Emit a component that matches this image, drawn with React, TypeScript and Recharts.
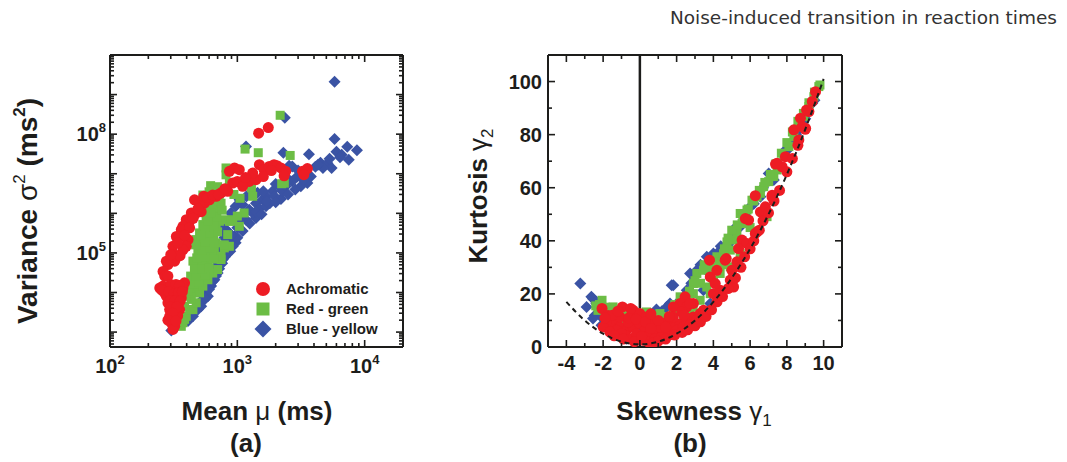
import React from "react";
import { ScatterChart, Scatter, XAxis, YAxis, ReferenceLine, Legend } from "recharts";

const INK = "#1d1d1b";
const RED = "#ed1c24";
const GREEN = "#6cbd45";
const BLUE = "#3a53a4";
const FONT = "'Liberation Sans', Arial, Helvetica, sans-serif";

// (a) mean reaction time (ms) vs variance (ms^2), [mean, variance]
const achromaticMV = [
  [1470, 1.06e8], [1750, 1.47e8],
  [866, 1.15e7], [950, 1.4e7], [1036, 1.27e7], [1490, 1.7e7], [1620, 1.27e7], [1780, 1.53e7], [1940, 1.7e7],
  [2050, 1.6e7], [2200, 1.4e7], [2400, 1.15e7], [2330, 8.9e6], [3250, 1.15e7], [3550, 1.35e7], [3330, 9.5e6],
  [920, 5.8e6], [1000, 6.4e6], [1130, 5.8e6], [1240, 6.4e6], [1400, 7.1e6], [1320, 1.04e7], [1100, 4.8e6],
  [840, 3.6e6], [745, 3.3e6], [681, 2.7e6], [604, 2.2e6], [552, 1.8e6], [505, 1.6e6], [461, 2.2e6], [545, 2.7e6],
  [435, 1.02e6], [475, 1.02e6], [520, 1.1e6], [397, 6.9e5], [422, 6.3e5], [410, 5.2e5], [374, 4.7e5], [363, 3.9e5],
  [422, 4.3e5], [332, 2.6e5], [342, 2.2e5], [410, 2.17e5], [312, 1.47e5], [397, 1.47e5], [374, 1.2e5], [322, 9.1e4],
  [294, 6.8e4], [322, 6.2e4], [285, 5.1e4], [277, 6.2e4], [261, 3.4e4], [269, 2.6e4], [285, 2.6e4],
  [246, 1.3e4], [261, 1.45e4], [277, 1.2e4], [294, 1.3e4], [312, 1.2e4], [332, 1.3e4], [352, 1.2e4], [374, 1.3e4],
  [385, 1.76e4], [269, 9.8e3], [277, 8.1e3], [303, 7.4e3], [332, 8.1e3], [363, 7.4e3], [285, 5.5e3], [312, 5e3],
  [342, 5.5e3], [294, 3.7e3], [322, 3.4e3], [352, 3.7e3], [294, 2.5e3], [322, 2.3e3], [340, 2.6e3], [303, 1.7e3],
  [322, 1.4e3], [312, 1.17e3],
  [300, 1.6e4], [330, 1.6e4], [350, 1.5e4], [255, 1.15e4], [290, 1.05e4], [320, 9.5e3], [345, 1e4], [370, 1.05e4],
  [300, 6.3e3], [325, 6.3e3], [355, 6e3], [300, 4.3e3], [335, 4.3e3], [310, 3e3], [285, 2e3], [330, 1.9e3],
  [355, 8.5e4], [300, 9e4], [340, 1.8e5], [385, 2.8e5], [450, 7.5e5], [490, 1.3e6], [580, 2.5e6], [640, 2.9e6],
  [710, 3e6], [800, 4.2e6], [1160, 8e6], [1600, 8.5e6], [1850, 1.2e7],
];
const redGreenMV = [
  [2170, 3e8], [1150, 4.2e7], [1460, 3.4e7], [2600, 2.9e7], [815, 1.4e7], [815, 9.4e6], [2230, 5.6e6], [2340, 5.8e6],
  [617, 5e6], [700, 4.7e6], [866, 5.8e6], [1290, 4.4e6], [552, 2.7e6], [1050, 2.4e6], [536, 2.9e6],
  [374, 1.72e3], [363, 1.4e3], [385, 2.1e3], [397, 2.5e3], [422, 3.7e3], [448, 3.7e3], [385, 4.5e3], [475, 5.5e3],
  [435, 6.7e3], [397, 8e3], [462, 9.8e3], [505, 9.8e3], [422, 1.3e4], [490, 1.45e4], [536, 1.45e4], [448, 2.1e4],
  [520, 2.35e4], [587, 2.1e4], [475, 3.1e4], [552, 3.4e4], [641, 3.1e4], [700, 3.8e4], [505, 4.6e4], [587, 5e4],
  [448, 6.2e4], [536, 6.8e4], [622, 7.5e4], [745, 6.8e4], [490, 1e5], [569, 1e5], [660, 1.1e5], [520, 1.47e5],
  [604, 1.6e5], [681, 1.8e5], [790, 1.34e5], [866, 1.47e5], [475, 2.17e5], [552, 2.4e5], [641, 2.6e5], [840, 2.9e5],
  [505, 3.2e5], [587, 3.9e5], [681, 4.3e5], [536, 5.2e5], [622, 5.7e5], [723, 6.3e5], [790, 6.9e5], [866, 6.3e5],
  [920, 6.9e5], [1036, 4.7e5], [569, 8.4e5], [660, 9.3e5], [1130, 1.02e6], [604, 1.2e6], [700, 1.5e6], [641, 1.65e6],
  [745, 1.8e6], [1320, 2.7e6], [890, 6.3e5], [790, 1.6e5], [745, 8.2e4],
  [410, 1.1e4], [455, 1.6e4], [500, 1.8e4], [430, 2.6e4], [470, 2.6e4], [560, 2.7e4], [460, 4e4], [530, 4e4],
  [600, 4.2e4], [480, 7.5e4], [560, 8e4], [650, 7e4], [530, 1.2e5], [610, 1.3e5], [470, 1.6e5], [560, 1.9e5],
  [650, 2.1e5], [520, 2.8e5], [610, 3.2e5], [700, 3.4e5], [560, 4.5e5], [650, 5e5], [590, 6.5e5], [690, 8e5],
  [620, 1e6], [560, 1.4e6], [760, 1.2e6], [720, 2.1e6], [600, 3.5e6], [780, 4e6], [940, 3e6], [1000, 8.5e5],
];
const blueYellowMV = [
  [5800, 2.1e9], [2360, 2.6e8], [1170, 4.9e7], [5800, 7.6e7], [2300, 3.4e7], [3650, 3.1e7], [4500, 1.9e7],
  [5100, 1.85e7], [6000, 3.6e7], [7300, 4.8e7], [8700, 3.9e7], [6600, 3e7], [7500, 2.25e7], [5500, 1.4e7],
  [4700, 1.4e7], [4100, 1.5e7], [2700, 1.53e7], [2550, 1.6e7], [2950, 8.5e6], [3550, 5.8e6], [3780, 8.5e6],
  [2550, 7e6], [2130, 4.8e6], [1890, 3.6e6], [2200, 2.3e6], [1800, 1.8e6], [1580, 2.2e6], [1400, 1.8e6],
  [1680, 2.7e6], [1400, 7.6e5], [1240, 1.24e6], [1100, 1.65e6], [1036, 6.3e5], [970, 1.5e6], [890, 1.02e6],
  [950, 2.6e5], [866, 2.17e5], [970, 1.8e5], [815, 3.9e5], [745, 5.2e5], [790, 2.4e5], [723, 1e5], [681, 4.6e4],
  [641, 3.1e4], [622, 1.45e4], [569, 9.8e3], [536, 6.7e3], [490, 3.7e3], [448, 2.5e3], [410, 1.9e3], [352, 1.6e3],
  [303, 1.1e3], [505, 5.5e3], [587, 8.1e3], [660, 2.1e4], [700, 3.1e4], [768, 6.8e4], [840, 1e5], [920, 1.47e5],
  [866, 3.2e5], [1000, 4.3e5], [1170, 6.9e5], [1320, 1.02e6], [1490, 1.3e6], [1680, 1.5e6], [1960, 2.7e6],
  [2260, 3.6e6], [2400, 4.8e6], [2700, 6.5e6], [3150, 4.8e6], [1440, 3.3e6], [1180, 2.7e6], [1040, 2.2e6],
  [520, 4.5e3], [560, 7e3], [600, 1.2e4], [640, 1.9e4], [680, 2.6e4], [720, 4e4], [760, 5.5e4], [800, 8e4],
  [880, 1.1e5], [760, 1.3e5], [1000, 2.4e5], [900, 2.8e5], [1100, 3.6e5], [780, 3.2e5], [1250, 5.5e5], [1100, 8.8e5],
  [1400, 1.1e6], [1550, 9.5e5], [1700, 2e6], [2000, 1.9e6], [2500, 3e6], [2850, 4e6], [3300, 7e6], [4300, 1.7e7],
  [1280, 3e6], [1600, 3.6e6], [2000, 5.5e6], [5300, 2.4e7], [6400, 2.6e7], [3000, 1.2e7],
];

// (b) skewness vs kurtosis, [skewness, kurtosis]
const achromaticSK = [
  [-2.06, 14.5], [-0.95, 15.1], [-0.36, 13.8], [-1.73, 11.9], [-1.46, 8.8], [-1.09, 7.5], [-0.73, 6.3], [-0.36, 7.5],
  [0, 8.8], [0.27, 6.3], [0.55, 5], [0.91, 5.7], [1.28, 5], [1.64, 6.3], [1.82, 8.2], [2.19, 8.8], [2.46, 18.9],
  [2.19, 16.4], [1.82, 15.1], [2.55, 15.1], [2.91, 16.4], [2.91, 11.3], [2.64, 9.4], [3.28, 12.6], [3.83, 26.4],
  [3.79, 32.7], [4.19, 28.9], [4, 20.1], [4.37, 21.4], [4.7, 33.3], [4.92, 25.2], [5.01, 28.9], [5.28, 32.1],
  [5.1, 22.6], [5.56, 40.3], [5.74, 48.4], [5.92, 47.8], [5.83, 39], [6.28, 42.8], [6.28, 57], [6.56, 50.9],
  [6.83, 52.8], [7.19, 56.6], [7.38, 68.9], [7.74, 67.9], [7.92, 71.7], [8.38, 81.8], [8.65, 78], [8.74, 86.2],
  [9.02, 82.4], [9.2, 88.7], [9.38, 92.5], [9.56, 96.2], [9.07, 89.3], [-1.82, 9.4], [-1.28, 6.3], [-0.82, 4.4],
  [-0.46, 3.1], [-0.18, 5], [0.18, 2.5], [0.46, 1.9], [0.82, 3.1], [1.18, 3.8], [1.55, 4.4], [2, 6.3], [2.37, 7.5],
  [2.73, 8.2], [3.1, 10.1], [3.46, 13.8], [-2, 7.5], [-1.64, 5.7], [-1, 5], [-0.64, 9.4], [-1.09, 11.3], [0, 12.6],
  [0.36, 11.3], [0.73, 8.8], [1.09, 7.5], [1.46, 9.4], [1.82, 11.3], [2.28, 13.2], [2.73, 16.4], [7.47, 69.2],
  [7.2, 57.2], [6.38, 43.4], [5.37, 37.1], [4.64, 32.7], [4.1, 23.9], [8.83, 83],
  [-1.5, 12], [-1.2, 13.5], [-0.6, 11], [-0.2, 10.5], [0.3, 9.5], [0.6, 7], [1, 10], [1.4, 7.5], [-1.9, 11],
  [-1.4, 4.2], [-0.9, 3], [-0.3, 2], [0.1, 4], [0.7, 1.5], [1, 2.2], [1.4, 3], [1.9, 4.5], [2.3, 5.5], [2.6, 6.5],
  [3, 8], [3.3, 9.5], [3.6, 11.5], [3.9, 14], [4.2, 17], [4.5, 19], [4.8, 22], [5.2, 26], [5.5, 30], [5.7, 34],
  [6, 37], [6.2, 40], [6.5, 44], [6.7, 47.5], [7, 50.5], [7.3, 55], [7.6, 59], [8, 66], [8.3, 71], [8.6, 76],
  [9, 82], [-0.5, 14.5], [0.6, 12.5], [1.6, 11.5], [2.4, 12],
];
const redGreenSK = [
  [-2.06, 17.6], [-2.28, 13.8], [-1.82, 13.2], [-1.46, 15.1], [-0.73, 12.6], [0.36, 13.2], [1.09, 12.6], [1.82, 13.2],
  [2.19, 18.9], [2.91, 23.9], [3.1, 27.7], [3.46, 28.9], [2.91, 20.1], [3.64, 22.6], [4, 25.2], [4.19, 34],
  [4.55, 35.2], [4.74, 39.6], [4.92, 36.5], [5.1, 40.3], [5.28, 42.8], [5.56, 46.5], [5.46, 50.3], [5.83, 51.6],
  [6.1, 55.3], [6.38, 56.6], [6.56, 57.9], [6.74, 60.4], [7.01, 62.3], [7.29, 64.2], [6.92, 49.1], [7.47, 66.7],
  [7.83, 71.7], [8.11, 75.5], [8.38, 79.2], [8.65, 83], [8.93, 86.8], [9.2, 90.6], [9.47, 94.3], [9.74, 98.1],
  [9.8, 98.7], [0.73, 6.3], [-0.36, 8.8], [-1.09, 8.8], [2.37, 10.1], [2.73, 12.6], [3.28, 17.6], [3.83, 20.1],
  [4.37, 27.7], [4.92, 30.2], [5.46, 35.2], [-1.5, 10.5], [1.2, 9.5], [0.1, 10], [2.9, 15], [4.6, 31], [6, 45],
  [-2.2, 16], [-1.9, 15], [-1.2, 12], [-0.9, 13], [-0.2, 13], [0.6, 11], [1.4, 11.5], [2.5, 16], [2.7, 21], [3, 25],
  [3.3, 24], [3.5, 31], [3.9, 30], [4.1, 29.5], [4.3, 32], [4.6, 37], [4.8, 41], [5, 44], [5.3, 46], [5.6, 48.5],
  [5.9, 52], [6.2, 55], [6.5, 59], [6.8, 62], [7.1, 65], [7.4, 69], [7.7, 73], [8, 77], [8.3, 81], [8.6, 85],
  [8.9, 88], [9.2, 92], [9.5, 96], [1.9, 16], [2.2, 14], [0, 11.5], [-1.6, 12.5], [-2.4, 15.5],
];
const blueYellowSK = [
  [-3.24, 23.9], [-2.55, 18.2], [-2.9, 15.1], [-2.46, 11.9], [1.73, 23.3], [0.9, 14.1], [1.46, 15.1], [2.19, 17.6],
  [2.73, 27.7], [3.1, 28.9], [3.64, 34], [4, 35.2], [4.28, 35.8], [4.55, 31.4], [5.1, 42.8], [5.46, 45.3],
  [6.01, 52.8], [6.56, 56.6], [7.01, 65.4], [7.29, 62.9], [7.83, 73.6], [8.2, 76.7], [8.65, 81.8], [9.11, 88.7],
  [9.38, 91.8], [-2.37, 16.4], [-2.1, 11.3], [-1.82, 7.5], [-1.46, 5], [-0.73, 3.1], [0, 6.3], [0.73, 11.3],
  [1.82, 7.5], [1.09, 6.3], [2.55, 21.4], [3.46, 21.4], [3.83, 16.4], [-2.64, 18.9], [-2.37, 17], [-2.55, 10.7],
  [-2.09, 8.2], [1.82, 23.3], [1.64, 16.4],
  [-2.2, 14], [-1.7, 13], [-1.2, 10], [-0.5, 11.5], [0.3, 12], [0.4, 4], [1.2, 13.5], [2.5, 19.5], [2.8, 24],
  [3.3, 31], [3.6, 29], [3.9, 33], [4.4, 38], [4.8, 38.5], [5.2, 45], [5.7, 50], [6.2, 54], [6.7, 60], [7.5, 68],
  [8, 74], [8.5, 80], [9, 86], [9.5, 93],
];

// dashed lower bound in (b)
const boundSkew = [-4, -3, -2, -1, 0, 1, 2, 3, 4, 5, 6, 7, 8, 9, 10];
const boundKurt = [17, 10, 5, 2, 1, 2, 5, 10, 17, 26, 37, 50, 65, 82, 101];

const seriesNames = ["Achromatic", "Red - green", "Blue - yellow"];

const pts = (a: number[][]) => a.map(([x, y]) => ({ x, y }));
const boundPts = boundSkew.map((x, i) => ({ x, y: boundKurt[i] }));

const logTicks = (lo: number, hi: number) => {
  const out: number[] = [];
  for (let e = Math.floor(Math.log10(lo)); e <= Math.ceil(Math.log10(hi)); e++)
    for (let m = 1; m <= 9; m++) {
      const v = m * 10 ** e;
      if (v > lo && v < hi) out.push(v);
    }
  return out;
};
const MEAN_DOMAIN: [number, number] = [100, 20000];
const VAR_DOMAIN: [number, number] = [420, 1e10];
const meanTicks = [100, ...logTicks(100, 20000)];
const varTicks = logTicks(420, 1e10);
const skewTicks = [-4, -3, -2, -1, 0, 1, 2, 3, 4, 5, 6, 7, 8, 9, 10];
const kurtTicks = [0, 10, 20, 30, 40, 50, 60, 70, 80, 90, 100];

const isPow10 = (v: number) => Math.abs(Math.log10(v) - Math.round(Math.log10(v))) < 1e-6;

type Side = "bottom" | "top" | "left" | "right";
const INWARD: Record<Side, [number, number]> = { bottom: [0, -1], top: [0, 1], left: [1, 0], right: [-1, 0] };

const frameTick =
  (side: Side, isMajor: (v: number) => boolean, label?: (v: number, x: number, y: number) => React.ReactNode) =>
  (props: any) => {
    const { x, y, payload } = props;
    const v = payload.value;
    const major = isMajor(v);
    const [dx, dy] = INWARD[side];
    const len = major ? 7 : 4;
    return (
      <g>
        <line x1={x} y1={y} x2={x + dx * len} y2={y + dy * len} stroke={INK} strokeWidth={1.6} />
        {major && label ? label(v, x, y) : null}
      </g>
    );
  };

const tickText = { fontSize: 20, fontWeight: 700, fontFamily: FONT, fill: INK };

const powLabelBottom = (v: number, x: number, y: number) => (
  <text x={x} y={y + 26} textAnchor="middle" {...tickText}>
    10<tspan dy={-9} fontSize={13}>{Math.round(Math.log10(v))}</tspan>
  </text>
);
const powLabelLeft = (v: number, x: number, y: number) => {
  const e = Math.round(Math.log10(v));
  if (e !== 5 && e !== 8) return null;
  return (
    <text x={x - 4} y={y + 7} textAnchor="end" {...tickText}>
      10<tspan dy={-9} fontSize={13}>{e}</tspan>
    </text>
  );
};
const numLabelBottom = (v: number, x: number, y: number) => (
  <text x={x} y={y + 23} textAnchor="middle" {...tickText}>{v}</text>
);
const numLabelLeft = (v: number, x: number, y: number) => (
  <text x={x - 6} y={y + 7} textAnchor="end" {...tickText}>{v}</text>
);

const Circle = (r: number) => (p: any) => <circle cx={p.cx} cy={p.cy} r={r} fill={RED} />;
const Square = (s: number) => (p: any) => <rect x={p.cx - s / 2} y={p.cy - s / 2} width={s} height={s} fill={GREEN} />;
const Diamond = (h: number) => (p: any) => (
  <path d={`M${p.cx},${p.cy - h}L${p.cx + h},${p.cy}L${p.cx},${p.cy + h}L${p.cx - h},${p.cy}Z`} fill={BLUE} />
);
const Nothing = () => <g />;

const AXIS = { stroke: INK, strokeWidth: 2 };
// axes get a 1px size: Recharts skips drawing an axis whose width/height is 0
const axisCommon = {
  type: "number" as const,
  allowDataOverflow: true,
  interval: 0 as const,
  tickSize: 0,
  tickMargin: 0,
  tickLine: false,
  axisLine: AXIS,
};

const LegendBox = () => {
  const markers = [Circle(7), Square(13), Diamond(8.5)];
  return (
    <svg width={150} height={64} style={{ display: "block" }}>
      {seriesNames.map((n, i) => (
        <g key={n}>
          {markers[i]({ cx: 11, cy: 10 + i * 20 })}
          <text x={34} y={15 + i * 20} fontSize={15} fontWeight={700} fontFamily={FONT} fill={INK}>
            {n}
          </text>
        </g>
      ))}
    </svg>
  );
};

const PanelA = () => (
  <ScatterChart width={420} height={462} margin={{ top: 54, right: 16, bottom: 114, left: 109 }}>
    <XAxis {...axisCommon} xAxisId="b" dataKey="x" scale="log" domain={MEAN_DOMAIN} ticks={meanTicks} height={1}
      tick={frameTick("bottom", isPow10, powLabelBottom)} />
    <XAxis {...axisCommon} xAxisId="t" orientation="top" dataKey="x" scale="log" domain={MEAN_DOMAIN} ticks={meanTicks}
      height={1} tick={frameTick("top", isPow10)} />
    <YAxis {...axisCommon} yAxisId="l" dataKey="y" scale="log" domain={VAR_DOMAIN} ticks={varTicks} width={1}
      tick={frameTick("left", isPow10, powLabelLeft)} />
    <YAxis {...axisCommon} yAxisId="r" orientation="right" dataKey="y" scale="log" domain={VAR_DOMAIN} ticks={varTicks}
      width={1} tick={frameTick("right", isPow10)} />
    <Scatter xAxisId="b" yAxisId="l" name={seriesNames[2]} data={pts(blueYellowMV)} shape={Diamond(6)} isAnimationActive={false} />
    <Scatter xAxisId="b" yAxisId="l" name={seriesNames[1]} data={pts(redGreenMV)} shape={Square(9)} isAnimationActive={false} />
    <Scatter xAxisId="b" yAxisId="l" name={seriesNames[0]} data={pts(achromaticMV)} shape={Circle(5.5)} isAnimationActive={false} />
    <Legend content={() => <LegendBox />} layout="vertical" align="center" verticalAlign="middle"
      wrapperStyle={{ left: 252, top: 279, width: 150, height: 64 }} />
  </ScatterChart>
);

const PanelB = () => (
  <ScatterChart width={437} height={462} margin={{ top: 54, right: 24, bottom: 114, left: 117 }}>
    <XAxis {...axisCommon} xAxisId="b" dataKey="x" domain={[-5, 11]} ticks={skewTicks} height={1}
      tick={frameTick("bottom", (v) => v % 2 === 0, numLabelBottom)} />
    <XAxis {...axisCommon} xAxisId="t" orientation="top" dataKey="x" domain={[-5, 11]} ticks={skewTicks} height={1}
      tick={frameTick("top", (v) => v % 2 === 0)} />
    <YAxis {...axisCommon} yAxisId="l" dataKey="y" domain={[0, 110]} ticks={kurtTicks} width={1}
      tick={frameTick("left", (v) => v % 20 === 0, numLabelLeft)} />
    <YAxis {...axisCommon} yAxisId="r" orientation="right" dataKey="y" domain={[0, 110]} ticks={kurtTicks} width={1}
      tick={frameTick("right", (v) => v % 20 === 0)} />
    <ReferenceLine xAxisId="b" yAxisId="l" x={0} stroke={INK} strokeWidth={2.5} />
    <Scatter xAxisId="b" yAxisId="l" data={pts(blueYellowSK)} shape={Diamond(6)} isAnimationActive={false} />
    <Scatter xAxisId="b" yAxisId="l" data={pts(redGreenSK)} shape={Square(9)} isAnimationActive={false} />
    <Scatter xAxisId="b" yAxisId="l" data={pts(achromaticSK)} shape={Circle(5.5)} isAnimationActive={false} />
    <Scatter xAxisId="b" yAxisId="l" data={boundPts} shape={Nothing} lineJointType="monotoneX"
      line={{ stroke: INK, strokeWidth: 2, strokeDasharray: "5 4" }} isAnimationActive={false} />
  </ScatterChart>
);

const title = { fontFamily: FONT, fontWeight: 700, fill: INK };

export default function App() {
  return (
    <div style={{ position: "absolute", left: 0, top: 0, width: 1067, height: 462, background: "#fff" }}>
      <div style={{ position: "absolute", left: 0, top: 0 }}>
        <PanelA />
      </div>
      <div style={{ position: "absolute", left: 430, top: 0 }}>
        <PanelB />
      </div>
      <svg width={1067} height={462} style={{ position: "absolute", left: 0, top: 0, pointerEvents: "none" }}>
        <text x={1057} y={24} textAnchor="end" fontSize={18.5} fontFamily="'DejaVu Sans', sans-serif" fill="#333">
          Noise-induced transition in reaction times
        </text>
        <text transform="translate(37 211) rotate(-90)" textAnchor="middle" fontSize={28} {...title}>
          Variance <tspan fontWeight={400}>σ</tspan>
          <tspan dy={-12} fontSize={17} fontWeight={400}>2</tspan>
          <tspan dy={12}> (ms</tspan>
          <tspan dy={-12} fontSize={17}>2</tspan>
          <tspan dy={12}>)</tspan>
        </text>
        <text x={257} y={420} textAnchor="middle" fontSize={26} {...title}>
          Mean <tspan fontWeight={400}>μ</tspan> (ms)
        </text>
        <text x={246} y={452} textAnchor="middle" fontSize={26} {...title}>(a)</text>
        <text transform="translate(487 196) rotate(-90)" textAnchor="middle" fontSize={26} {...title}>
          Kurtosis <tspan fontWeight={400}>γ</tspan>
          <tspan dy={6} fontSize={17} fontWeight={400}>2</tspan>
        </text>
        <text x={694} y={420} textAnchor="middle" fontSize={26} {...title}>
          Skewness <tspan fontWeight={400}>γ</tspan>
          <tspan dy={6} fontSize={17} fontWeight={400}>1</tspan>
        </text>
        <text x={690} y={452} textAnchor="middle" fontSize={26} {...title}>(b)</text>
      </svg>
    </div>
  );
}
